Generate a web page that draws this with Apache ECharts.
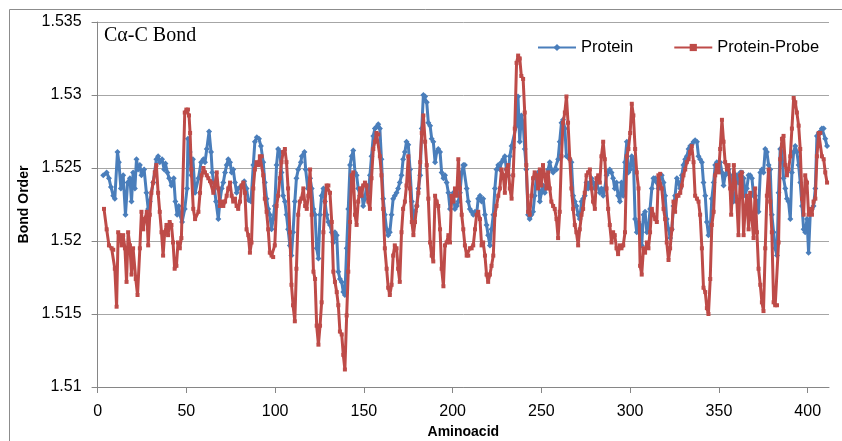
<!DOCTYPE html>
<html>
<head>
<meta charset="utf-8">
<script src="https://cdn.jsdelivr.net/npm/echarts@6/dist/echarts.min.js"></script>
<style>html,body{margin:0;padding:0;background:#fff;}#c{width:842px;height:441px;}</style>
</head>
<body>
<div id="c"></div>
<script>
var titleText = 'Cα-C Bond';
var xTicks = [0, 50, 100, 150, 200, 250, 300, 350, 400];
var yTicks = [1.51, 1.515, 1.52, 1.525, 1.53, 1.535];

var proteinX = [3.2,5.1,6.4,7.5,8.8,9.7,11.2,12.0,13.1,14.4,15.7,16.9,18.2,19.1,20.0,21.0,21.9,22.8,23.8,24.7,26.2,27.5,28.5,29.4,31.3,33.1,34.1,35.0,36.3,37.5,38.2,39.3,40.3,41.6,42.9,43.8,44.8,45.7,46.4,47.6,49.1,50.4,50.9,51.9,52.8,53.7,
54.9,56.8,58.3,59.6,60.5,61.5,62.8,63.9,64.6,65.8,66.7,68.0,68.9,69.9,70.8,71.8,72.7,73.6,74.6,75.5,76.4,77.4,78.3,79.2,81.1,82.6,83.9,84.9,86.4,87.7,88.6,89.7,90.9,92.0,93.3,94.2,95.2,96.1,97.0,98.0,98.9,99.8,100.8,101.7,102.7,103.6,104.5,105.5,106.4,107.3,108.3,109.2,110.1,111.1,112.0,113.0,114.5,
115.0,116.5,117.2,118.4,119.7,120.6,121.6,122.5,123.4,124.4,125.3,126.2,127.2,128.1,129.0,130.0,130.9,131.9,132.8,133.7,134.7,135.6,136.5,137.5,138.4,139.3,140.3,141.2,142.2,143.1,144.0,145.0,145.9,146.8,147.8,148.7,149.6,150.6,151.5,152.5,153.4,154.3,155.3,156.2,157.1,158.1,159.0,159.9,160.9,161.8,162.8,163.7,164.6,165.6,166.5,167.4,168.4,169.3,170.2,171.2,172.1,173.1,174.0,175.0,
176.0,177.0,177.9,178.8,179.8,180.7,181.7,182.6,183.5,184.5,185.4,186.3,187.3,188.2,189.1,190.1,191.0,191.9,192.9,193.8,194.8,195.7,196.6,197.6,198.5,199.4,200.4,201.3,202.3,203.2,204.1,205.1,206.0,206.9,207.9,208.8,209.7,210.7,211.6,212.6,213.5,214.4,215.4,216.3,217.2,218.2,219.1,220.0,221.0,221.9,222.9,223.8,224.7,225.7,226.6,227.5,228.5,229.4,230.3,231.3,232.2,233.2,234.1,
235.9,236.8,237.8,238.7,239.7,240.6,241.5,242.5,243.4,244.4,245.3,246.2,247.2,248.1,249.1,250.0,250.9,251.9,252.8,253.8,254.7,255.6,256.6,257.5,258.5,259.4,260.3,261.3,262.2,263.2,264.1,265.0,266.0,266.9,267.9,268.8,269.7,270.7,271.6,272.6,273.5,274.4,275.4,276.3,277.3,278.2,279.1,280.1,281.0,282.0,282.9,283.8,284.8,285.7,286.7,287.6,288.5,289.5,290.4,291.3,292.3,293.2,294.2,295.1,296.1,
297.1,298.1,299.0,300.0,300.9,301.8,302.8,303.7,304.7,305.6,306.5,307.5,308.4,309.4,310.3,311.2,312.2,313.1,314.1,315.0,315.9,316.9,317.8,318.8,319.7,320.6,321.6,322.5,323.5,324.4,325.3,326.3,327.2,328.2,329.1,330.0,331.0,331.9,332.9,333.8,334.7,335.7,336.6,337.6,338.5,339.4,340.4,341.3,342.3,343.2,344.1,345.1,346.0,347.0,347.9,348.8,349.8,350.7,351.7,352.6,353.5,354.5,
355.4,356.3,357.3,358.2,359.2,360.1,361.0,362.0,362.9,363.9,364.8,365.7,366.7,367.6,368.6,369.5,370.4,371.4,372.3,373.3,374.2,375.1,376.1,377.0,378.0,378.9,379.8,380.8,381.7,382.7,383.6,384.5,385.5,386.4,387.4,388.3,389.2,390.2,391.1,392.1,393.0,393.9,394.9,395.8,396.8,397.7,398.6,399.6,400.5,401.5,402.4,403.3,404.3,405.2,406.2,407.1,408.0,409.0,409.9,410.9];

var proteinY = [1.5245,1.5247,1.5243,1.5237,1.5231,1.5229,1.5261,1.5254,1.5236,1.5245,1.5218,1.5240,1.5243,1.5227,1.5247,1.5236,1.5256,1.5249,1.5252,1.5245,1.5249,1.5233,1.5222,1.5227,1.5240,1.5256,1.5258,1.5254,1.5256,1.5249,1.5253,1.5247,1.5243,1.5238,1.5243,1.5227,1.5218,1.5224,1.5218,1.5213,1.5222,1.5236,1.5270,1.5261,1.5245,1.5256,
1.5233,1.5243,1.5254,1.5256,1.5254,1.5263,1.5275,1.5261,1.5247,1.5236,1.5227,1.5215,1.5227,1.5236,1.5240,1.5247,1.5252,1.5256,1.5254,1.5247,1.5249,1.5240,1.5233,1.5236,1.5238,1.5241,1.5236,1.5228,1.5227,1.5252,1.5268,1.5271,1.5270,1.5265,1.5254,1.5240,1.5229,1.5222,1.5218,1.5208,1.5215,1.5224,1.5252,1.5263,1.5261,1.5247,1.5231,1.5227,1.5218,1.5208,1.5197,1.5190,1.5206,1.5227,1.5243,1.5249,1.5254,
1.5258,1.5261,1.5249,1.5236,1.5243,1.5236,1.5222,1.5218,1.5195,1.5188,1.5218,1.5231,1.5236,1.5227,1.5218,1.5213,1.5211,1.5206,1.5199,1.5206,1.5204,1.5179,1.5174,1.5172,1.5165,1.5163,1.5195,1.5222,1.5252,1.5258,1.5262,1.5247,1.5245,1.5236,1.5231,1.5236,1.5224,1.5229,1.5238,1.5233,1.5245,1.5258,1.5272,1.5277,1.5278,1.5280,1.5277,1.5256,1.5229,1.5218,1.5208,1.5204,1.5206,1.5218,1.5229,1.5231,1.5233,1.5236,1.5240,1.5245,1.5256,1.5261,1.5268,1.5266,
1.5249,1.5227,1.5213,1.5220,1.5224,1.5236,1.5245,1.5277,1.5300,1.5299,1.5295,1.5281,1.5279,1.5270,1.5268,1.5254,1.5261,1.5263,1.5261,1.5247,1.5243,1.5245,1.5240,1.5233,1.5222,1.5227,1.5233,1.5222,1.5224,1.5227,1.5233,1.5247,1.5252,1.5252,1.5236,1.5227,1.5222,1.5220,1.5218,1.5220,1.5218,1.5229,1.5231,1.5227,1.5229,1.5218,1.5211,1.5204,1.5197,1.5208,1.5218,1.5236,1.5249,1.5252,1.5249,1.5254,1.5256,1.5258,1.5249,1.5245,1.5258,1.5265,1.5264,
1.5279,1.5299,1.5268,1.5286,1.5281,1.5263,1.5249,1.5218,1.5215,1.5218,1.5220,1.5231,1.5245,1.5247,1.5227,1.5233,1.5238,1.5233,1.5238,1.5249,1.5254,1.5249,1.5247,1.5249,1.5249,1.5256,1.5268,1.5281,1.5283,1.5277,1.5258,1.5258,1.5256,1.5254,1.5231,1.5227,1.5224,1.5218,1.5215,1.5227,1.5229,1.5231,1.5240,1.5236,1.5240,1.5243,1.5240,1.5236,1.5240,1.5240,1.5233,1.5236,1.5231,1.5236,1.5245,1.5247,1.5249,1.5247,1.5243,1.5236,1.5240,1.5231,1.5227,1.5240,1.5231,
1.5254,1.5268,1.5247,1.5249,1.5258,1.5256,1.5215,1.5206,1.5213,1.5211,1.5197,1.5218,1.5220,1.5206,1.5208,1.5222,1.5236,1.5243,1.5243,1.5240,1.5236,1.5243,1.5245,1.5240,1.5231,1.5215,1.5208,1.5202,1.5208,1.5224,1.5231,1.5243,1.5240,1.5236,1.5245,1.5252,1.5256,1.5258,1.5263,1.5265,1.5266,1.5268,1.5269,1.5268,1.5258,1.5256,1.5254,1.5240,1.5231,1.5213,1.5204,1.5208,1.5229,1.5240,1.5252,1.5254,1.5249,1.5254,1.5247,1.5238,1.5245,1.5247,
1.5249,1.5245,1.5236,1.5227,1.5231,1.5245,1.5240,1.5247,1.5247,1.5243,1.5231,1.5236,1.5245,1.5245,1.5243,1.5231,1.5231,1.5227,1.5220,1.5247,1.5249,1.5247,1.5263,1.5261,1.5252,1.5249,1.5218,1.5206,1.5195,1.5190,1.5233,1.5263,1.5261,1.5243,1.5236,1.5229,1.5227,1.5215,1.5247,1.5261,1.5265,1.5261,1.5252,1.5240,1.5224,1.5208,1.5206,1.5215,1.5192,1.5220,1.5222,1.5224,1.5236,1.5272,1.5274,1.5274,1.5277,1.5277,1.5270,1.5265];

var probeX = [3.6,5.1,6.4,7.9,8.8,9.7,10.7,11.6,12.5,13.5,14.4,15.4,16.3,17.2,18.2,19.1,20.0,21.5,22.5,23.8,24.7,25.7,26.6,27.7,28.5,29.4,30.3,31.3,32.2,33.1,34.1,35.0,36.0,36.9,37.8,38.8,39.7,40.6,41.6,42.5,43.4,44.4,45.3,46.3,47.2,49.1,50.0,50.9,51.5,52.1,52.8,53.9,
54.9,56.8,57.7,58.6,59.6,60.5,61.5,62.4,63.3,64.3,65.2,66.1,67.1,68.0,68.9,69.9,70.8,71.8,72.7,73.6,74.6,75.5,76.4,77.4,78.3,79.2,80.2,81.1,82.1,83.0,83.9,84.9,85.8,86.7,87.7,88.6,89.5,90.5,91.4,92.4,93.3,94.2,95.2,96.1,97.0,98.0,98.9,99.8,100.8,101.7,102.7,103.6,104.5,105.5,106.4,107.3,108.3,109.2,110.1,111.1,112.0,113.0,113.9,114.8,
115.9,116.9,117.8,118.7,119.7,120.6,121.6,122.5,123.4,124.4,125.3,126.2,127.2,128.1,129.0,130.0,130.9,131.9,132.8,133.7,134.7,135.6,136.5,137.5,138.4,139.3,140.3,141.2,142.2,143.1,144.0,145.0,145.9,146.8,147.8,148.7,149.6,150.6,151.5,152.5,153.4,154.3,155.3,156.2,157.1,158.1,159.0,159.9,160.9,161.8,162.8,163.7,164.6,165.6,166.5,167.4,168.4,169.3,170.2,171.2,172.1,173.1,174.0,175.0,
176.0,177.0,177.9,178.8,179.8,180.7,181.7,182.6,183.5,184.5,185.4,186.3,187.3,188.2,189.1,190.1,191.0,191.9,192.9,193.8,194.8,195.7,196.6,197.6,198.5,199.4,200.4,201.3,202.3,203.2,204.1,205.1,206.0,206.9,207.9,208.8,209.7,210.7,211.6,212.6,213.5,214.4,215.4,216.3,217.2,218.2,219.1,220.0,221.0,221.9,222.9,223.8,224.7,225.7,226.6,227.5,228.5,229.4,230.3,231.3,232.2,233.2,234.1,235.0,236.0,236.9,
237.8,238.7,239.7,240.6,241.5,242.5,243.4,244.4,245.3,246.2,247.2,248.1,249.1,250.0,250.9,251.9,252.8,253.8,254.7,255.6,256.6,257.5,258.5,259.4,260.3,261.3,262.2,263.2,264.1,265.0,266.0,266.9,267.9,268.8,269.7,270.7,271.6,272.6,273.5,274.4,275.4,276.3,277.3,278.2,279.1,280.1,281.0,282.0,282.9,283.8,284.8,285.7,286.7,287.6,288.5,289.5,290.4,291.3,292.3,293.2,294.2,295.1,296.1,
297.1,298.1,299.0,300.0,300.9,301.8,302.8,303.7,304.7,305.6,306.5,307.5,308.4,309.4,310.3,311.2,312.2,313.1,314.1,315.0,315.9,316.9,317.8,318.8,319.7,320.6,321.6,322.5,323.5,324.4,325.3,326.3,327.2,328.2,329.1,330.0,331.0,331.9,332.9,333.8,334.7,335.7,336.6,337.6,338.5,339.4,340.4,341.3,342.3,343.2,344.1,345.1,346.0,347.0,347.9,348.8,349.8,350.7,351.7,352.6,353.5,354.5,
355.4,356.3,356.9,357.7,358.4,359.2,360.1,361.0,362.0,362.9,363.9,364.8,365.7,366.7,367.6,368.6,369.5,370.4,371.4,372.3,373.3,374.2,375.1,376.1,377.0,378.0,378.9,379.8,380.8,381.7,382.7,383.6,384.5,385.5,386.4,387.4,388.3,389.2,390.2,391.1,392.1,393.0,393.9,394.9,395.8,396.8,397.7,398.6,399.6,400.5,401.5,402.4,403.3,404.3,405.2,406.2,407.1,408.0,409.0,409.9,410.9];

var probeY = [1.5222,1.5208,1.5197,1.5195,1.5194,1.5181,1.5155,1.5206,1.5204,1.5197,1.5204,1.5195,1.5172,1.5206,1.5197,1.5177,1.5195,1.5174,1.5163,1.5195,1.5220,1.5208,1.5215,1.5220,1.5197,1.5218,1.5233,1.5240,1.5247,1.5252,1.5233,1.5220,1.5206,1.5190,1.5206,1.5211,1.5204,1.5213,1.5211,1.5199,1.5181,1.5183,1.5199,1.5195,1.5202,1.5288,1.5290,1.5290,1.5286,1.5274,1.5249,1.5222,
1.5215,1.5220,1.5233,1.5245,1.5250,1.5247,1.5245,1.5243,1.5241,1.5240,1.5233,1.5238,1.5247,1.5236,1.5224,1.5227,1.5224,1.5227,1.5231,1.5236,1.5240,1.5231,1.5227,1.5229,1.5224,1.5222,1.5227,1.5238,1.5240,1.5233,1.5208,1.5204,1.5192,1.5199,1.5236,1.5249,1.5254,1.5252,1.5258,1.5258,1.5245,1.5229,1.5220,1.5208,1.5192,1.5190,1.5189,1.5197,1.5224,1.5231,1.5243,1.5254,1.5261,1.5263,1.5254,1.5236,1.5206,1.5170,1.5156,1.5145,1.5181,1.5218,1.5227,1.5229,
1.5236,1.5224,1.5222,1.5231,1.5249,1.5218,1.5179,1.5174,1.5142,1.5129,1.5142,1.5158,1.5206,1.5227,1.5238,1.5238,1.5233,1.5213,1.5179,1.5172,1.5165,1.5156,1.5138,1.5136,1.5122,1.5112,1.5149,1.5179,1.5213,1.5245,1.5247,1.5218,1.5211,1.5227,1.5236,1.5231,1.5238,1.5240,1.5238,1.5227,1.5222,1.5243,1.5263,1.5268,1.5274,1.5273,1.5258,1.5245,1.5222,1.5195,1.5181,1.5168,1.5163,1.5170,1.5190,1.5197,1.5195,1.5181,1.5172,1.5206,1.5222,1.5227,1.5238,1.5258,
1.5236,1.5213,1.5204,1.5213,1.5224,1.5233,1.5254,1.5274,1.5286,1.5268,1.5252,1.5229,1.5199,1.5190,1.5186,1.5231,1.5227,1.5224,1.5208,1.5181,1.5169,1.5197,1.5199,1.5204,1.5199,1.5231,1.5227,1.5236,1.5231,1.5256,1.5236,1.5218,1.5208,1.5197,1.5190,1.5190,1.5195,1.5195,1.5197,1.5208,1.5218,1.5220,1.5215,1.5197,1.5199,1.5190,1.5177,1.5172,1.5177,1.5183,1.5190,1.5218,1.5224,1.5231,1.5236,1.5249,1.5245,1.5233,1.5249,1.5252,1.5236,1.5229,1.5245,1.5277,1.5322,1.5327,
1.5325,1.5313,1.5311,1.5288,1.5252,1.5220,1.5218,1.5231,1.5243,1.5247,1.5245,1.5236,1.5249,1.5238,1.5252,1.5245,1.5236,1.5247,1.5236,1.5227,1.5224,1.5222,1.5215,1.5202,1.5220,1.5258,1.5281,1.5288,1.5299,1.5281,1.5256,1.5236,1.5222,1.5211,1.5206,1.5197,1.5208,1.5218,1.5222,1.5233,1.5245,1.5247,1.5249,1.5236,1.5227,1.5222,1.5243,1.5245,1.5240,1.5258,1.5268,1.5256,1.5236,1.5222,1.5211,1.5199,1.5206,1.5204,1.5195,1.5191,1.5197,1.5195,1.5197,
1.5206,1.5258,1.5263,1.5274,1.5294,1.5286,1.5263,1.5247,1.5236,1.5183,1.5177,1.5195,1.5192,1.5199,1.5195,1.5206,1.5222,1.5218,1.5215,1.5213,1.5245,1.5246,1.5236,1.5222,1.5215,1.5199,1.5187,1.5195,1.5208,1.5227,1.5220,1.5231,1.5231,1.5233,1.5238,1.5245,1.5249,1.5254,1.5256,1.5261,1.5265,1.5254,1.5231,1.5229,1.5227,1.5218,1.5195,1.5168,1.5165,1.5154,1.5150,1.5174,1.5211,1.5220,1.5245,1.5252,1.5247,1.5263,1.5283,1.5268,1.5254,1.5249,
1.5252,1.5236,1.5218,1.5236,1.5252,1.5240,1.5227,1.5204,1.5245,1.5247,1.5204,1.5222,1.5231,1.5208,1.5233,1.5215,1.5202,1.5236,1.5206,1.5181,1.5170,1.5158,1.5152,1.5195,1.5231,1.5249,1.5227,1.5206,1.5158,1.5156,1.5156,1.5199,1.5256,1.5270,1.5272,1.5252,1.5245,1.5249,1.5258,1.5277,1.5298,1.5295,1.5288,1.5279,1.5263,1.5229,1.5218,1.5245,1.5240,1.5218,1.5222,1.5218,1.5227,1.5229,1.5258,1.5274,1.5274,1.5258,1.5256,1.5247,1.5240];

function zip(xs, ys) { var out = []; for (var i = 0; i < xs.length && i < ys.length; i++) out.push([xs[i], ys[i]]); return out; }

var chart = echarts.init(document.getElementById('c'), null, { renderer: 'canvas' });
var tickFont = "'Liberation Sans', Arial, sans-serif";
chart.setOption({
  animation: false,
  backgroundColor: '#ffffff',
  grid: { left: 97.6, top: 22, right: 13, bottom: 54, containLabel: false, outerBoundsMode: 'none' },
  graphic: [
    { type: 'line', shape: { x1: 9.5, y1: 9.5, x2: 842, y2: 9.5 }, style: { stroke: '#8c8c8c', lineWidth: 1 } },
    { type: 'line', shape: { x1: 9.5, y1: 9.5, x2: 9.5, y2: 441 }, style: { stroke: '#8c8c8c', lineWidth: 1 } },
    { type: 'text', left: 104, top: 26, style: { text: titleText, font: "20px 'Liberation Serif', 'Times New Roman', serif", fill: '#000' } }
  ],
  legend: {
    left: 532, top: 34, itemWidth: 38, itemHeight: 9, itemGap: 40,
    textStyle: { fontFamily: "'Liberation Sans', Arial, sans-serif", fontSize: 16.5, color: '#000' },
    data: ['Protein', 'Protein-Probe']
  },
  xAxis: {
    type: 'value', min: 0, max: 412, interval: 50,
    name: 'Aminoacid', nameLocation: 'middle', nameGap: 38,
    nameTextStyle: { fontFamily: "'Liberation Sans', Arial, sans-serif", fontSize: 14, fontWeight: 'bold', color: '#000' },
    axisLine: { lineStyle: { color: '#868686', width: 1 } },
    axisTick: { show: true, inside: false, length: 6, customValues: xTicks, lineStyle: { color: '#868686' } },
    axisLabel: { customValues: xTicks, margin: 17, fontFamily: tickFont, fontSize: 16, color: '#000' },
    splitLine: { show: false }
  },
  yAxis: {
    type: 'value', min: 1.51, max: 1.535, interval: 0.005,
    name: 'Bond Order', nameLocation: 'middle', nameGap: 66, nameRotate: 90,
    nameTextStyle: { fontFamily: "'Liberation Sans', Arial, sans-serif", fontSize: 14, fontWeight: 'bold', color: '#000' },
    axisLine: { show: true, lineStyle: { color: '#868686', width: 1 } },
    axisTick: { show: true, inside: false, length: 6, lineStyle: { color: '#868686' } },
    axisLabel: { margin: 16, fontFamily: tickFont, fontSize: 16, color: '#000',
      formatter: function (v) { return String(+v.toFixed(3)); } },
    splitLine: { show: true, lineStyle: { color: '#a6a6a6', width: 1 } }
  },
  series: [
    { name: 'Protein', type: 'line', data: zip(proteinX, proteinY), symbol: 'diamond', symbolSize: 6, showAllSymbol: true,
      lineStyle: { color: '#4A7EBB', width: 3 }, itemStyle: { color: '#4A7EBB' }, z: 2 },
    { name: 'Protein-Probe', type: 'line', data: zip(probeX, probeY), symbol: 'rect', symbolSize: 4, showAllSymbol: true,
      lineStyle: { color: '#BE4B48', width: 3 }, itemStyle: { color: '#BE4B48' }, z: 3 }
  ]
});
</script>
</body>
</html>
